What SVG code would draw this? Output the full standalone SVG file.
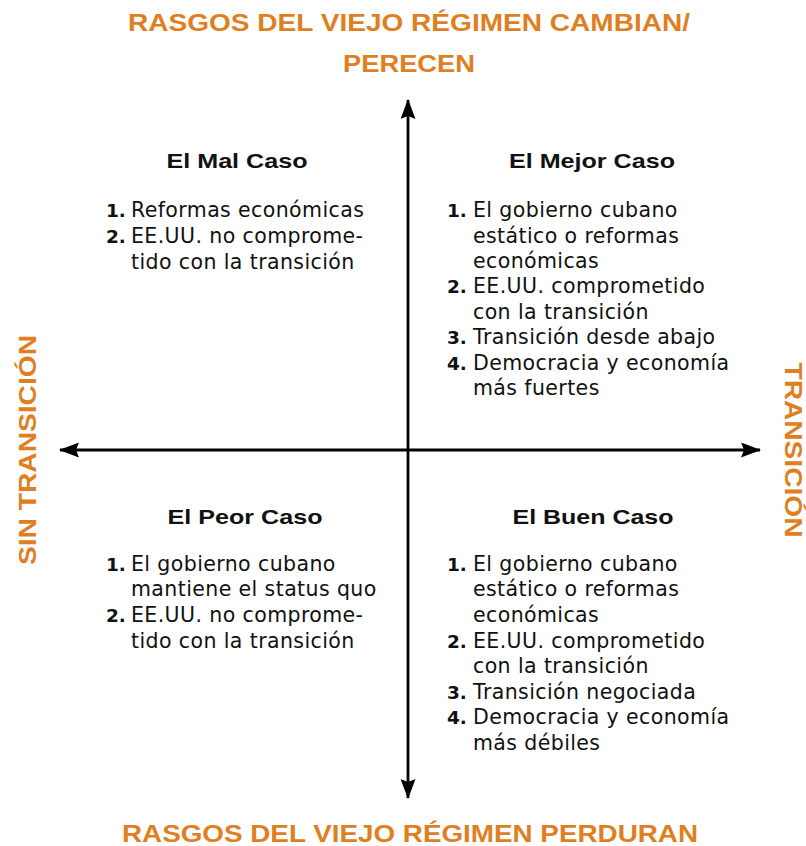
<svg xmlns="http://www.w3.org/2000/svg" width="806" height="846" viewBox="0 0 806 846">
<style>
.ax{font-family:"Liberation Sans",Arial,sans-serif;font-weight:bold;font-size:24px;fill:#E07F22}
.hd{font-family:"Liberation Sans",Arial,sans-serif;font-weight:bold;font-size:21px;fill:#111;text-anchor:middle}
.bd{font-family:"DejaVu Sans",Verdana,sans-serif;font-size:20.5px;letter-spacing:0.4px;fill:#111}
.n{font-weight:bold;letter-spacing:0;font-size:18.5px}
.line{stroke:#000;stroke-width:2.8;fill:none}
</style>
<defs>
<marker id="ah" viewBox="0 0 20 15" refX="19" refY="7.5" markerWidth="20" markerHeight="15" markerUnits="userSpaceOnUse" orient="auto">
<path d="M0,0 L20,7.5 L0,15 L3,7.5 Z" fill="#000"/>
</marker>
</defs>
<rect width="806" height="846" fill="#fff"/>
<g id="axis-labels">
<text class="ax" x="409" y="31" text-anchor="middle" textLength="562" lengthAdjust="spacingAndGlyphs">RASGOS DEL VIEJO RÉGIMEN CAMBIAN/</text>
<text class="ax" x="409" y="72" text-anchor="middle" textLength="132" lengthAdjust="spacingAndGlyphs">PERECEN</text>
<text class="ax" x="410" y="842" text-anchor="middle" textLength="576" lengthAdjust="spacingAndGlyphs">RASGOS DEL VIEJO RÉGIMEN PERDURAN</text>
<text class="ax" text-anchor="middle" transform="translate(36,450) rotate(-90)" textLength="230" lengthAdjust="spacingAndGlyphs">SIN TRANSICIÓN</text>
<text class="ax" text-anchor="middle" transform="translate(785,450) rotate(90)" textLength="175" lengthAdjust="spacingAndGlyphs">TRANSICIÓN</text>
</g>
<g id="connectors">
<line class="line" x1="408" y1="450" x2="408" y2="100" marker-end="url(#ah)"/>
<line class="line" x1="408" y1="450" x2="408" y2="798" marker-end="url(#ah)"/>
<line class="line" x1="408" y1="450" x2="60" y2="450" marker-end="url(#ah)"/>
<line class="line" x1="408" y1="450" x2="760" y2="450" marker-end="url(#ah)"/>
</g>
<g id="mal-caso">
<text class="hd" x="237" y="168" textLength="141" lengthAdjust="spacingAndGlyphs">El Mal Caso</text>
<text class="bd" x="106" y="217"><tspan class="n">1.</tspan><tspan x="131">Reformas económicas</tspan></text>
<text class="bd" x="106" y="243"><tspan class="n">2.</tspan><tspan x="131">EE.UU. no comprome-</tspan></text>
<text class="bd" x="131" y="269">tido con la transición</text>
</g>
<g id="mejor-caso">
<text class="hd" x="592" y="168" textLength="166" lengthAdjust="spacingAndGlyphs">El Mejor Caso</text>
<text class="bd" x="447" y="217"><tspan class="n">1.</tspan><tspan x="473">El gobierno cubano</tspan></text>
<text class="bd" x="473" y="243">estático o reformas</text>
<text class="bd" x="473" y="268">económicas</text>
<text class="bd" x="447" y="293"><tspan class="n">2.</tspan><tspan x="473">EE.UU. comprometido</tspan></text>
<text class="bd" x="473" y="319">con la transición</text>
<text class="bd" x="447" y="344"><tspan class="n">3.</tspan><tspan x="473">Transición desde abajo</tspan></text>
<text class="bd" x="447" y="370"><tspan class="n">4.</tspan><tspan x="473">Democracia y economía</tspan></text>
<text class="bd" x="473" y="395">más fuertes</text>
</g>
<g id="peor-caso">
<text class="hd" x="245" y="524" textLength="155" lengthAdjust="spacingAndGlyphs">El Peor Caso</text>
<text class="bd" x="106" y="571"><tspan class="n">1.</tspan><tspan x="131">El gobierno cubano</tspan></text>
<text class="bd" x="131" y="596">mantiene el status quo</text>
<text class="bd" x="106" y="622"><tspan class="n">2.</tspan><tspan x="131">EE.UU. no comprome-</tspan></text>
<text class="bd" x="131" y="648">tido con la transición</text>
</g>
<g id="buen-caso">
<text class="hd" x="593" y="524" textLength="161" lengthAdjust="spacingAndGlyphs">El Buen Caso</text>
<text class="bd" x="447" y="571"><tspan class="n">1.</tspan><tspan x="473">El gobierno cubano</tspan></text>
<text class="bd" x="473" y="596">estático o reformas</text>
<text class="bd" x="473" y="622">económicas</text>
<text class="bd" x="447" y="648"><tspan class="n">2.</tspan><tspan x="473">EE.UU. comprometido</tspan></text>
<text class="bd" x="473" y="673">con la transición</text>
<text class="bd" x="447" y="699"><tspan class="n">3.</tspan><tspan x="473">Transición negociada</tspan></text>
<text class="bd" x="447" y="724"><tspan class="n">4.</tspan><tspan x="473">Democracia y economía</tspan></text>
<text class="bd" x="473" y="750">más débiles</text>
</g>
</svg>
